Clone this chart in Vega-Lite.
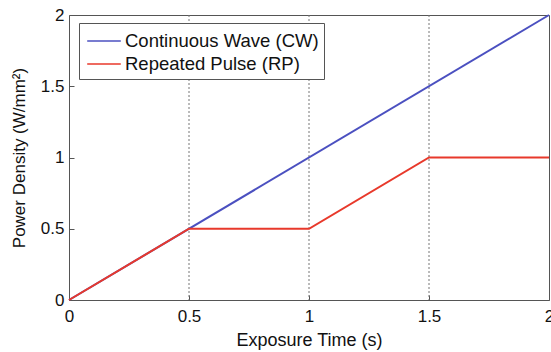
{
  "$schema": "https://vega.github.io/schema/vega-lite/v6.json",
  "width": 480,
  "height": 285,
  "autosize": {"type": "none"},
  "padding": {"left": 69, "top": 15, "right": 2, "bottom": 52},
  "background": "white",
  "config": {
    "font": "Liberation Sans",
    "view": {"stroke": "#555", "strokeWidth": 1},
    "axis": {
      "grid": false,
      "domain": false,
      "tickColor": "#555",
      "tickSize": -5,
      "labelFont": "Liberation Sans",
      "labelFontSize": 17,
      "labelColor": "#111",
      "titleFont": "Liberation Sans",
      "titleFontSize": 18,
      "titleFontWeight": "normal",
      "titleColor": "#111"
    }
  },
  "datasets": {
    "lines": [
      {"series": "Continuous Wave (CW)", "t": 0, "p": 0},
      {"series": "Continuous Wave (CW)", "t": 2, "p": 2},
      {"series": "Repeated Pulse (RP)", "t": 0, "p": 0},
      {"series": "Repeated Pulse (RP)", "t": 0.5, "p": 0.5},
      {"series": "Repeated Pulse (RP)", "t": 1, "p": 0.5},
      {"series": "Repeated Pulse (RP)", "t": 1.5, "p": 1},
      {"series": "Repeated Pulse (RP)", "t": 2, "p": 1}
    ],
    "marks": [{"t": 0.5}, {"t": 1}, {"t": 1.5}]
  },
  "layer": [
    {
      "data": {"name": "marks"},
      "mark": {"type": "rule", "color": "#777", "strokeDash": [2, 2], "strokeWidth": 1},
      "encoding": {
        "x": {"field": "t", "type": "quantitative", "scale": {"domain": [0, 2]},
              "axis": {"values": [0, 0.5, 1, 1.5, 2], "format": "~g", "title": "Exposure Time (s)", "labelPadding": 13, "titlePadding": 7, "labelFlush": false}}
      }
    },
    {
      "data": {"name": "lines"},
      "mark": {"type": "line", "strokeWidth": 2},
      "encoding": {
        "x": {"field": "t", "type": "quantitative", "scale": {"domain": [0, 2]}},
        "y": {"field": "p", "type": "quantitative", "scale": {"domain": [0, 2]},
              "axis": {"values": [0, 0.5, 1, 1.5, 2], "format": "~g", "title": "Power Density (W/mm²)", "titleFontSize": 17, "labelPadding": 10, "titlePadding": 12, "labelFlush": false}},
        "color": {
          "field": "series", "type": "nominal",
          "scale": {"domain": ["Continuous Wave (CW)", "Repeated Pulse (RP)"], "range": ["#4b50c0", "#e8392b"]},
          "legend": {
            "title": null,
            "orient": "none",
            "legendX": 10,
            "legendY": 8,
            "symbolType": "M-1.4,0H1.4",
            "symbolSize": 576,
            "symbolOffset": 7,
            "symbolStrokeWidth": 1.5,
            "labelFontSize": 18.5,
            "labelLimit": 400,
            "labelColor": "#111",
            "labelOffset": 8,
            "strokeColor": "#555",
            "fillColor": "white",
            "padding": 5,
            "rowPadding": 0
          }
        }
      }
    }
  ]
}
